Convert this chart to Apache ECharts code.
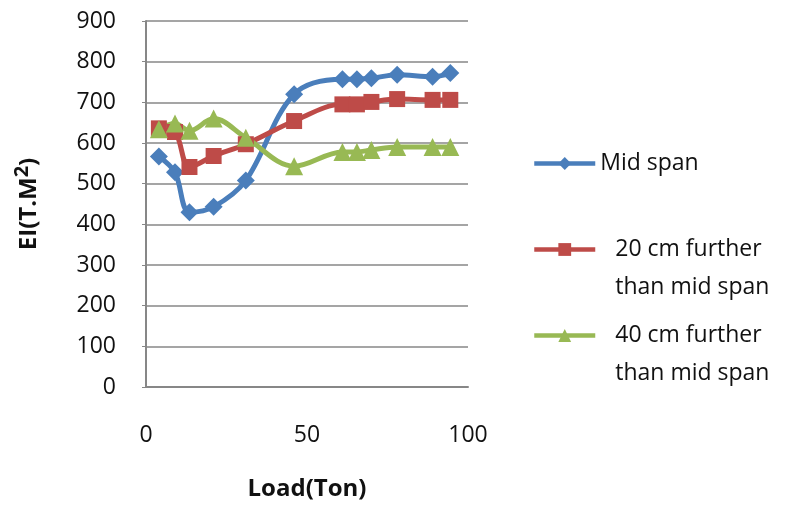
<!DOCTYPE html>
<html>
<head>
<meta charset="utf-8">
<script src="https://cdn.jsdelivr.net/npm/echarts@6/dist/echarts.min.js"></script>
<style>
  html, body { margin: 0; padding: 0; background: #fff; }
  #chart { width: 787px; height: 510px; }
</style>
</head>
<body>
<div id="chart"></div>
<script>
// load steps (Ton)
var loads = [4, 9, 13.5, 21, 31, 46, 61, 65.5, 70, 78, 89, 94.5];
// EI values (T.M^2)
var midSpan = [567, 528, 430, 443, 508, 720, 757, 757, 759, 768, 763, 772];
var further20 = [636, 627, 541, 568, 597, 654, 695, 695, 701, 708, 706, 706];
var further40 = [634, 648, 630, 660, 613, 543, 578, 578, 583, 590, 590, 590];
var seriesNames = ["Mid span", "20 cm further\nthan mid span", "40 cm further\nthan mid span"];
var xTicks = [0, 50, 100];
var yTicks = [0, 100, 200, 300, 400, 500, 600, 700, 800, 900];

var font = "Open Sans";
var gray = "#878787";

function pairs(ys) {
  return loads.map(function (x, i) { return [x, ys[i]]; });
}

function line(name, data, color, symbol, size) {
  return {
    name: name,
    type: "line",
    smooth: 0.35,
    data: pairs(data),
    symbol: symbol,
    symbolSize: size,
    lineStyle: { color: color, width: 5 },
    itemStyle: { color: color },
    emphasis: { disabled: true }
  };
}

// multi-line items get a blank first line so the icon sits beside the first text line
function legendAt(name, top, multi) {
  return {
    data: [name],
    orient: "vertical",
    left: 532,
    top: top,
    itemWidth: 61,
    itemHeight: 16,
    padding: 0,
    selectedMode: false,
    lineStyle: { width: 4.5 },
    formatter: function (n) {
      if (!multi) return "{t|" + n + "}";
      var parts = n.split("\n");
      return "{g| }\n{m|" + parts[0] + "}\n{m|" + parts[1] + "}";
    },
    textStyle: {
      rich: {
        t: { fontFamily: font, fontSize: 23, color: "#111", lineHeight: 38 },
        g: { fontFamily: font, fontSize: 23, lineHeight: 38 },
        m: { fontFamily: font, fontSize: 23, color: "#111", lineHeight: 38, padding: [0, 0, 0, 15] }
      }
    }
  };
}

var myChart = echarts.init(document.getElementById("chart"));
myChart.setOption({
  animation: false,
  grid: { left: 146, right: 319, top: 21, bottom: 123 },
  legend: [
    legendAt(seriesNames[0], 152, false),
    legendAt(seriesNames[1], 200, true),
    legendAt(seriesNames[2], 286, true)
  ],
  xAxis: {
    type: "value",
    min: xTicks[0],
    max: xTicks[xTicks.length - 1],
    interval: 50,
    name: "Load(Ton)",
    nameLocation: "middle",
    nameGap: 90,
    nameTextStyle: { fontFamily: font, fontSize: 24, fontWeight: "bold", color: "#111" },
    axisLine: { show: true, lineStyle: { color: gray, width: 2 } },
    axisTick: { show: false },
    splitLine: { show: false },
    axisLabel: { margin: 37, fontFamily: font, fontSize: 23, color: "#111" }
  },
  yAxis: {
    type: "value",
    min: yTicks[0],
    max: yTicks[yTicks.length - 1],
    interval: 100,
    name: "EI(T.M{s|2})",
    nameLocation: "middle",
    nameRotate: 90,
    nameGap: 100,
    nameTextStyle: {
      fontFamily: font, fontSize: 24, fontWeight: "bold", color: "#111",
      rich: { s: { fontFamily: font, fontSize: 20, fontWeight: "bold", color: "#111", padding: [0, 0, 14, 0] } }
    },
    axisLine: { show: true, lineStyle: { color: gray, width: 2 } },
    axisTick: { show: true, length: 4, lineStyle: { color: gray } },
    splitLine: { show: true, lineStyle: { color: gray, width: 1.5 } },
    axisLabel: { margin: 30, fontFamily: font, fontSize: 23, color: "#111" }
  },
  series: [
    line(seriesNames[0], midSpan, "#4a7ebb", "diamond", 18),
    line(seriesNames[1], further20, "#be4b48", "rect", 16),
    line(seriesNames[2], further40, "#98b954", "triangle", 18)
  ]
});
</script>
</body>
</html>
